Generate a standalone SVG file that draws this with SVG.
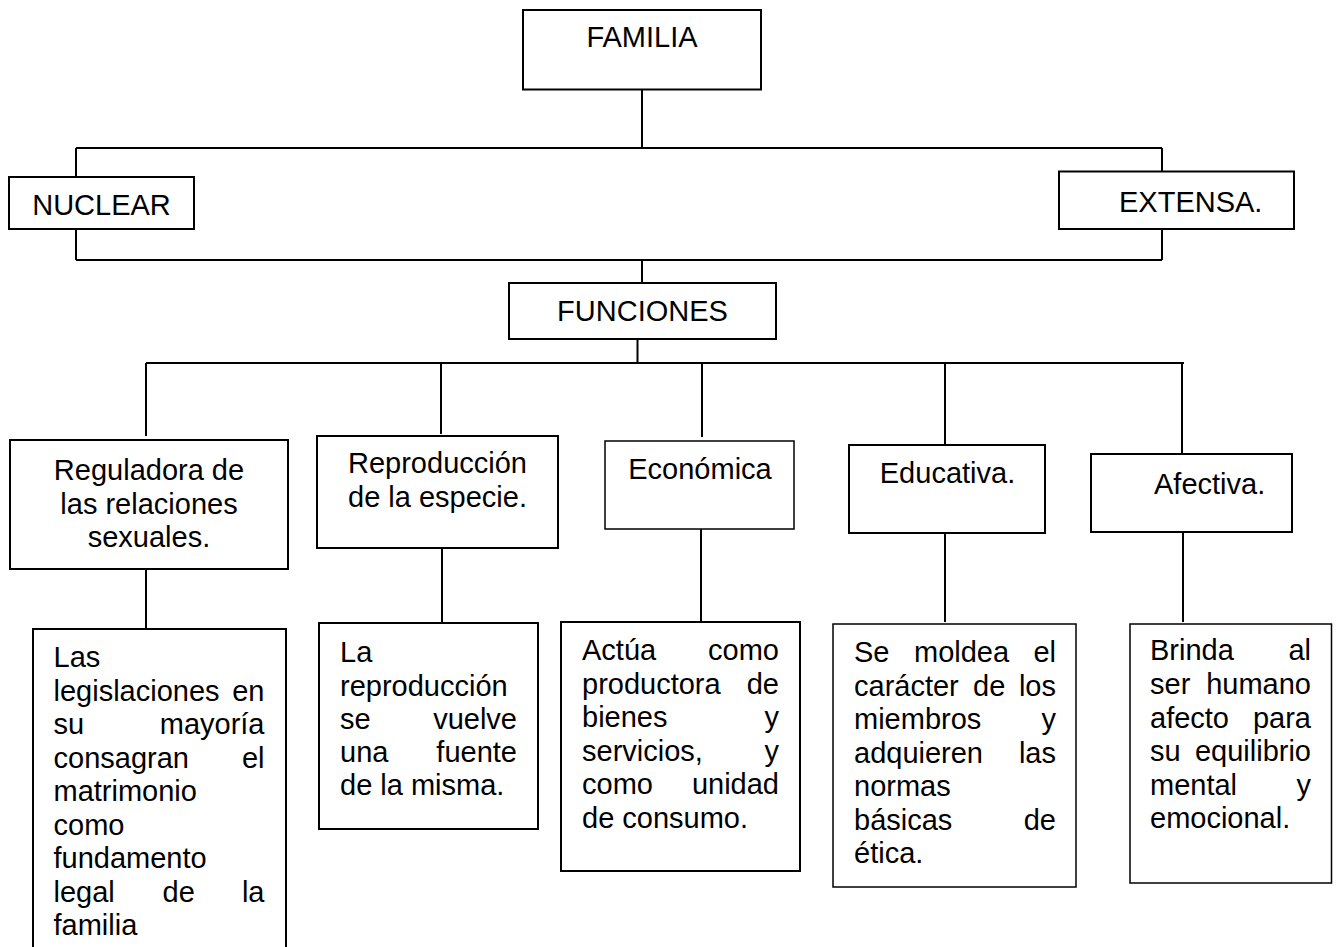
<svg xmlns="http://www.w3.org/2000/svg" width="1337" height="947" viewBox="0 0 1337 947">
<style>
.box{fill:#fff;stroke:#000;stroke-width:2}
.thin{stroke-width:1.5}
.ln{fill:none;stroke:#000;stroke-width:2}
text{font-family:"Liberation Sans",Arial,sans-serif;font-size:29px;fill:#000}
.c{text-anchor:middle}
.e{text-anchor:end}
</style>
<rect width="1337" height="947" fill="#fff"/>
<g id="connectors">
<path class="ln" d="M642 89V148M76 148H1162M76 148V177M1162 148V171M76 229V260M1162 229V260M76 260H1162M642 260V283M637.5 339V363M146 363H1184"/>
<path class="ln" d="M146 363V436M441 363V434M702 363V437M945 363V444M1182 363V453"/>
<path class="ln" d="M146 569V629M442 548V623M701 529V622M945 533V622M1183 532V622"/>
</g>
<g id="familia"><rect class="box" x="523" y="10" width="238" height="79.5"/><text class="c" x="642" y="47">FAMILIA</text></g>
<g id="nuclear"><rect class="box" x="9" y="177" width="185" height="52"/><text class="c" x="101.5" y="215">NUCLEAR</text></g>
<g id="extensa"><rect class="box" x="1059" y="171.5" width="235" height="57.5"/><text x="1119" y="212">EXTENSA.</text></g>
<g id="funciones"><rect class="box" x="509" y="283" width="267" height="56"/><text class="c" x="642.5" y="321">FUNCIONES</text></g>
<g id="reguladora"><rect class="box" x="10" y="440" width="278" height="129"/><text class="c" x="149" y="480">Reguladora de</text><text class="c" x="149" y="513.5">las relaciones</text><text class="c" x="149" y="547">sexuales.</text></g>
<g id="reproduccion"><rect class="box" x="317" y="436" width="241" height="112"/><text class="c" x="437.5" y="473">Reproducción</text><text class="c" x="437.5" y="507">de la especie.</text></g>
<g id="economica"><rect class="box thin" x="605" y="441" width="189" height="88"/><text class="c" x="700" y="479">Económica</text></g>
<g id="educativa"><rect class="box" x="849" y="445" width="196" height="88"/><text class="c" x="947.5" y="483">Educativa.</text></g>
<g id="afectiva"><rect class="box" x="1091" y="454" width="201" height="78"/><text x="1154" y="494">Afectiva.</text></g>
<g id="legislaciones"><rect class="box" x="33" y="629" width="253" height="340"/>
<text x="53.5" y="667">Las</text>
<text x="53.5" y="700.5">legislaciones</text><text class="e" x="264.5" y="700.5">en</text>
<text x="53.5" y="734">su</text><text class="e" x="264.5" y="734">mayoría</text>
<text x="53.5" y="767.5">consagran</text><text class="e" x="264.5" y="767.5">el</text>
<text x="53.5" y="801">matrimonio</text>
<text x="53.5" y="834.5">como</text>
<text x="53.5" y="868">fundamento</text>
<text x="53.5" y="901.5">legal</text><text x="162.5" y="901.5">de</text><text class="e" x="264.5" y="901.5">la</text>
<text x="53.5" y="935">familia</text>
</g>
<g id="la-reproduccion"><rect class="box" x="319" y="623" width="219" height="206"/>
<text x="340" y="662">La</text>
<text x="340" y="696">reproducción</text>
<text x="340" y="729">se</text><text class="e" x="517" y="729">vuelve</text>
<text x="340" y="762">una</text><text class="e" x="517" y="762">fuente</text>
<text x="340" y="795">de la misma.</text>
</g>
<g id="actua"><rect class="box" x="561" y="622" width="239" height="249"/>
<text x="582" y="660">Actúa</text><text class="e" x="779" y="660">como</text>
<text x="582" y="693.5">productora</text><text class="e" x="779" y="693.5">de</text>
<text x="582" y="727">bienes</text><text class="e" x="779" y="727">y</text>
<text x="582" y="760.5">servicios,</text><text class="e" x="779" y="760.5">y</text>
<text x="582" y="794">como</text><text class="e" x="779" y="794">unidad</text>
<text x="582" y="827.5">de consumo.</text>
</g>
<g id="se-moldea"><rect class="box thin" x="833" y="624" width="243" height="263"/>
<text x="854" y="662">Se</text><text x="914" y="662">moldea</text><text class="e" x="1056" y="662">el</text>
<text x="854" y="695.5">carácter</text><text x="973" y="695.5">de</text><text class="e" x="1056" y="695.5">los</text>
<text x="854" y="729">miembros</text><text class="e" x="1056" y="729">y</text>
<text x="854" y="762.5">adquieren</text><text class="e" x="1056" y="762.5">las</text>
<text x="854" y="796">normas</text>
<text x="854" y="829.5">básicas</text><text class="e" x="1056" y="829.5">de</text>
<text x="854" y="863">ética.</text>
</g>
<g id="brinda"><rect class="box thin" x="1130" y="624" width="201.5" height="259"/>
<text x="1150" y="660">Brinda</text><text class="e" x="1311" y="660">al</text>
<text x="1150" y="694">ser</text><text class="e" x="1311" y="694">humano</text>
<text x="1150" y="727.5">afecto</text><text class="e" x="1311" y="727.5">para</text>
<text x="1150" y="761">su</text><text class="e" x="1311" y="761">equilibrio</text>
<text x="1150" y="795">mental</text><text class="e" x="1311" y="795">y</text>
<text x="1150" y="828">emocional.</text>
</g>
</svg>
